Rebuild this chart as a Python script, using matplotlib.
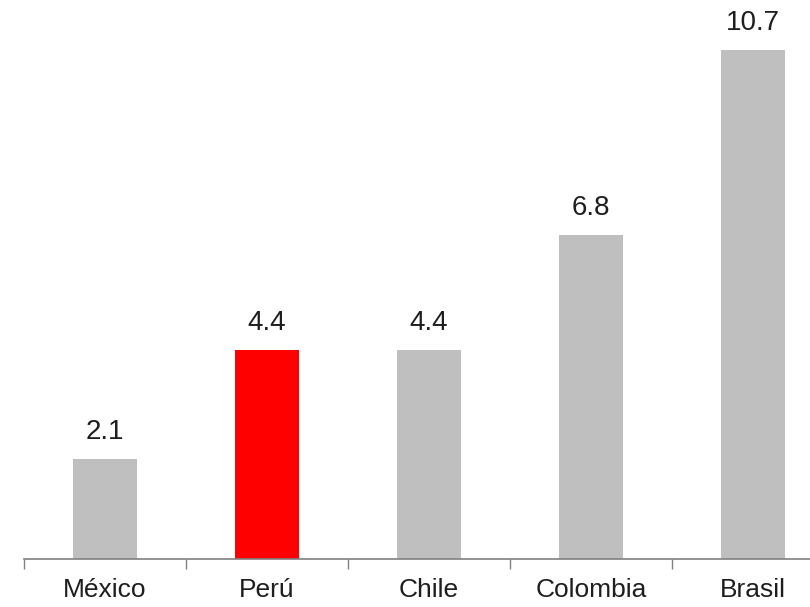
import matplotlib.pyplot as plt

countries = ['México', 'Perú', 'Chile', 'Colombia', 'Brasil']
values = [2.1, 4.4, 4.4, 6.8, 10.7]
colors = ['#bfbfbf', '#ff0000', '#bfbfbf', '#bfbfbf', '#bfbfbf']

plt.rcParams['font.family'] = ['Liberation Sans Narrow', 'Liberation Sans', 'DejaVu Sans']

fig = plt.figure(figsize = (8.1, 6.07), dpi = 100)
ax = fig.add_axes([24 / 810, 48 / 607, 1 - 24 / 810, 559 / 607])

x = list(range(len(countries)))
ax.bar(x, values, width = 0.4, color = colors)

for xi, v in zip(x, values):
    ax.annotate(f'{v:.1f}', (xi, v), xytext = (0, 10), textcoords = 'offset points',
                ha = 'center', va = 'bottom', fontsize = 20, color = '#1e1e1e')

ax.set_xlim(-0.5, -0.5 + (810 - 24) / 162)
ax.set_ylim(0, 559 / 47.6)

ax.set_xticks(x)
ax.set_xticklabels(countries, fontsize = 19, color = '#1e1e1e')
ax.set_xticks([k - 0.5 for k in x], minor = True)
ax.tick_params(axis = 'x', which = 'major', length = 0, pad = 14)
ax.tick_params(axis = 'x', which = 'minor', length = 7, color = '#808080', width = 1)
ax.set_yticks([])

for side in ['top', 'right', 'left']:
    ax.spines[side].set_visible(False)
ax.spines['bottom'].set_color('#808080')
ax.spines['bottom'].set_linewidth(1.2)

fig.savefig('out.png', dpi = 100)
